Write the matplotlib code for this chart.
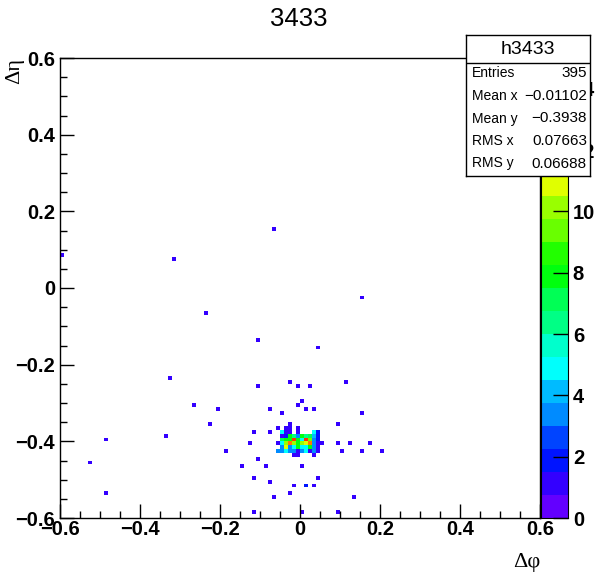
import colorsys
import numpy as np
import matplotlib
matplotlib.use("Agg")
import matplotlib.pyplot as plt
from matplotlib.colors import ListedColormap, BoundaryNorm
from matplotlib.ticker import MultipleLocator

# isolated bins (bin centres, counts)
iso_x = [-0.065, -0.595, -0.315, 0.155, -0.235, -0.105, 0.045,
         -0.325, -0.265, -0.205, -0.225, -0.335, -0.485, -0.185, -0.525, -0.485,
         -0.025, -0.105, -0.005, 0.025, 0.005, -0.005, -0.075, 0.015, 0.035,
         -0.045, -0.115, -0.075, -0.125, -0.105, -0.145, -0.085, 0.005,
         -0.115, 0.045, -0.075, -0.015, 0.015, 0.035, -0.025, -0.065,
         -0.115, 0.005,
         0.115, 0.155, 0.095, 0.095, 0.125, 0.175, 0.105, 0.155, 0.205,
         0.135, 0.095]
iso_y = [0.155, 0.085, 0.075, -0.025, -0.065, -0.135, -0.155,
         -0.235, -0.305, -0.315, -0.355, -0.385, -0.395, -0.425, -0.455, -0.535,
         -0.245, -0.255, -0.255, -0.255, -0.295, -0.305, -0.315, -0.315, -0.315,
         -0.325, -0.375, -0.375, -0.405, -0.445, -0.465, -0.465, -0.465,
         -0.495, -0.495, -0.505, -0.515, -0.515, -0.515, -0.535, -0.545,
         -0.585, -0.585,
         -0.245, -0.325, -0.355, -0.405, -0.405, -0.405, -0.425, -0.425, -0.425,
         -0.545, -0.585]
iso_w = [1] * len(iso_x)
iso_w[37] = 2

# central cluster
clus_x = [-0.055, -0.045, -0.035, -0.025, -0.015, -0.005,
          0.005, 0.015, 0.025, 0.035, 0.045, 0.055]
clus_y = [-0.355, -0.365, -0.375, -0.385, -0.395,
          -0.405, -0.415, -0.425, -0.435]
clus_n = [
    [0, 0, 0, 1, 0, 0, 0, 0, 0, 0, 0, 0],
    [1, 0, 1, 1, 0, 1, 0, 0, 0, 0, 0, 0],
    [0, 5, 1, 1, 0, 1, 0, 0, 0, 5, 2, 0],
    [0, 1, 2, 8, 6, 3, 8, 6, 7, 4, 2, 0],
    [0, 7, 8, 8, 14, 8, 5, 14, 9, 3, 2, 0],
    [1, 5, 10, 13, 10, 8, 10, 11, 13, 3, 1, 1],
    [0, 3, 11, 3, 5, 8, 5, 5, 8, 3, 1, 0],
    [3, 3, 5, 3, 3, 1, 3, 5, 1, 3, 1, 0],
    [0, 0, 0, 0, 1, 1, 0, 0, 0, 1, 0, 0],
]

stats_names = ["Entries", "Mean x", "Mean y", "RMS x", "RMS y"]
stats_vals = ["395", "\u22120.01102", "\u22120.3938", "0.07663", "0.06688"]

W, H = 598, 576


def root_palette(ncont=20):
    pretty = []
    for i in range(49):
        hue = 280 - (i + 1) * 280 / 50
        pretty.append(colorsys.hls_to_rgb(hue / 360, 0.5, 1))
    pretty.append((1.0, 0.0, 0.0))
    return [pretty[int((k + 0.99) * 50 / ncont)] for k in range(ncont)]


xs, ys, ws = list(iso_x), list(iso_y), list(iso_w)
for j, yv in enumerate(clus_y):
    for i, xv in enumerate(clus_x):
        if clus_n[j][i]:
            xs.append(xv)
            ys.append(yv)
            ws.append(clus_n[j][i])

edges = np.linspace(-0.6, 0.6, 121)
h2, _, _ = np.histogram2d(xs, ys, bins=[edges, edges], weights=ws)
h2 = np.ma.masked_equal(h2.T, 0)

cmap = ListedColormap(root_palette())
norm = BoundaryNorm(np.linspace(0, 15, 21), 20)

fig = plt.figure(figsize=(W / 100, H / 100), dpi=100)
sans = "Liberation Sans"
serif = "Liberation Serif"

ax = fig.add_axes([60 / W, 58 / H, 480 / W, 460 / H])
ax.pcolormesh(edges, edges, h2, cmap=cmap, norm=norm)
ax.set_xlim(-0.6, 0.6)
ax.set_ylim(-0.6, 0.6)
for sp in ax.spines.values():
    sp.set_linewidth(1.0)
ax.xaxis.set_major_locator(MultipleLocator(0.2))
ax.xaxis.set_minor_locator(MultipleLocator(0.05))
ax.yaxis.set_major_locator(MultipleLocator(0.2))
ax.yaxis.set_minor_locator(MultipleLocator(0.05))
ax.tick_params(which="both", direction="in", top=False, right=False, width=1)
ax.tick_params(which="major", length=10)
ax.tick_params(which="minor", length=5)
ax.tick_params(axis="x", pad=1.5)
ax.tick_params(axis="y", pad=3.5)


def fmt(v):
    if abs(v) < 1e-9:
        return "0"
    s = "%.1f" % v
    return s.replace("-", "\u2212")


ticks = np.arange(-0.6, 0.61, 0.2)
ax.set_xticks(ticks)
ax.set_yticks(ticks)
ax.set_xticklabels([fmt(v) for v in ticks])
ax.set_yticklabels([fmt(v) for v in ticks])
for lab in ax.get_xticklabels() + ax.get_yticklabels():
    lab.set_fontfamily(sans)
    lab.set_fontweight("bold")
    lab.set_fontsize(14.5)

# colour scale
cax = fig.add_axes([541 / W, 58 / H, 27 / W, 460 / H])
zl = np.linspace(0, 15, 21)
cax.pcolormesh([0, 1], zl, zl[:-1].reshape(-1, 1) + 0.01, cmap=cmap, norm=norm)
cax.set_xlim(0, 1)
cax.set_ylim(0, 15)
cax.set_xticks([])
cax.yaxis.tick_right()
cax.set_yticks(np.arange(0, 15, 2))
cax.set_yticklabels([str(v) for v in range(0, 15, 2)])
cax.tick_params(axis="y", direction="in", length=11, width=1, pad=3.5)
for lab in cax.get_yticklabels():
    lab.set_fontfamily(sans)
    lab.set_fontweight("bold")
    lab.set_fontsize(14.5)

# stats box
bx0, bx1, by0, by1 = 466, 590, 35, 176
sax = fig.add_axes([bx0 / W, 1 - by1 / H, (bx1 - bx0) / W, (by1 - by0) / H])
sax.set_zorder(10)
sax.set_xlim(bx0, bx1)
sax.set_ylim(by1, by0)
sax.set_xticks([])
sax.set_yticks([])
sax.set_facecolor("white")
for sp in sax.spines.values():
    sp.set_linewidth(1.0)
sax.axhline(63, color="black", lw=1.0)
sax.text((bx0 + bx1) / 2, 49, "h3433", ha="center", va="center",
         fontsize=14, family=sans)
row_y = [73, 96, 118.5, 141, 163.5]
for name, val, yy in zip(stats_names, stats_vals, row_y):
    sax.text(472, yy, name, ha="left", va="center", fontsize=10, family=sans)
    sax.text(587, yy, val, ha="right", va="center", fontsize=11, family=sans)

fig.text(0.5, 1 - 19 / H, "3433", ha="center", va="center",
         fontsize=18.5, family=sans)
fig.text(540 / W, 1 - 562 / H, "\u0394\u03c6", ha="right", va="center",
         fontsize=16, family=serif)
fig.text(15 / W, 1 - 58 / H, "\u0394\u03b7", ha="center", va="top",
         rotation=90, fontsize=16, family=serif)

fig.savefig("out.png", dpi=100, facecolor="white")
